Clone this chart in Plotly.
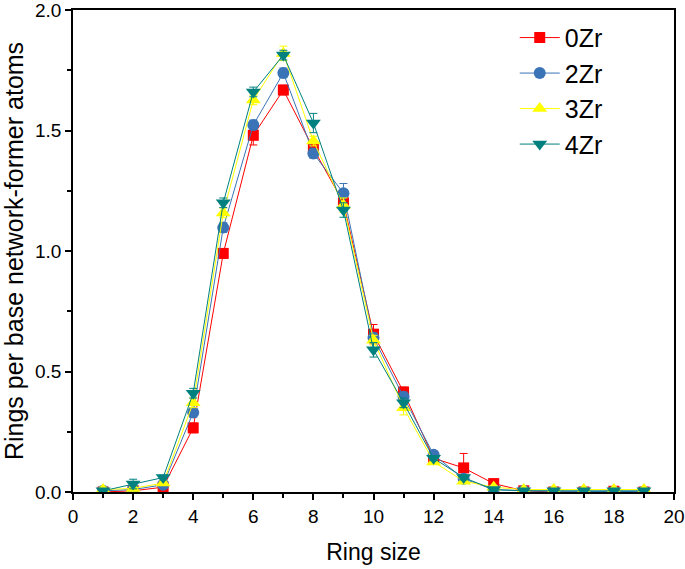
import plotly.graph_objects as go

ring_size = list(range(1, 20))
names = ["0Zr", "2Zr", "3Zr", "4Zr"]
y_0zr = [0.0, 0.005, 0.02, 0.266, 0.99, 1.48, 1.668, 1.425, 1.20, 0.655, 0.415, 0.14, 0.10, 0.035, 0.005, 0.0, 0.0, 0.003, 0.0]
y_2zr = [0.005, 0.01, 0.03, 0.33, 1.097, 1.523, 1.739, 1.405, 1.24, 0.64, 0.395, 0.155, 0.055, 0.01, 0.005, 0.002, 0.002, 0.002, 0.002]
y_3zr = [0.01, 0.015, 0.037, 0.37, 1.158, 1.627, 1.82, 1.456, 1.19, 0.63, 0.35, 0.125, 0.045, 0.02, 0.01, 0.01, 0.01, 0.01, 0.01]
y_4zr = [0.005, 0.033, 0.06, 0.41, 1.20, 1.66, 1.813, 1.531, 1.17, 0.59, 0.37, 0.14, 0.06, 0.01, 0.005, 0.005, 0.005, 0.005, 0.005]
err_0zr = [0.005, 0.005, 0.01, 0.02, 0.02, 0.04, 0.02, 0.03, 0.03, 0.04, 0.02, 0.01, 0.06, 0.01, 0.005, 0.0, 0.0, 0.005, 0.0]
err_2zr = [0.005, 0.01, 0.01, 0.02, 0.02, 0.02, 0.02, 0.02, 0.04, 0.02, 0.02, 0.01, 0.01, 0.005, 0.005, 0.0, 0.0, 0.0, 0.0]
err_3zr = [0.01, 0.01, 0.01, 0.02, 0.02, 0.02, 0.03, 0.02, 0.03, 0.02, 0.03, 0.01, 0.01, 0.005, 0.005, 0.005, 0.005, 0.005, 0.005]
err_4zr = [0.005, 0.02, 0.01, 0.02, 0.02, 0.02, 0.02, 0.04, 0.03, 0.03, 0.02, 0.01, 0.01, 0.005, 0.005, 0.0, 0.0, 0.0, 0.0]

series = [y_0zr, y_2zr, y_3zr, y_4zr]
errors = [err_0zr, err_2zr, err_3zr, err_4zr]
colors = ["#FF0000", "#3A74B6", "#FFFF00", "#00807F"]
symbols = ["square", "circle", "triangle-up", "triangle-down"]
sizes = [11, 12, 13, 13]

fig = go.Figure()
for n, y, e, c, s, sz in zip(names, series, errors, colors, symbols, sizes):
    fig.add_trace(go.Scatter(
        x=ring_size, y=y, name=n, mode="lines+markers",
        line=dict(color=c, width=1),
        marker=dict(color=c, symbol=s, size=sz),
        error_y=dict(type="data", array=e, visible=True, color=c, thickness=1, width=4),
    ))

font_family = "Liberation Sans, Arial, sans-serif"
fig.update_layout(
    width=685, height=569,
    margin=dict(l=73, r=11, t=10, b=77, autoexpand=False),
    paper_bgcolor="white", plot_bgcolor="white",
    font=dict(family=font_family, color="black"),
    showlegend=True,
    legend=dict(x=0.735, y=0.99, xanchor="left", yanchor="top",
                font=dict(size=25, family=font_family),
                bgcolor="rgba(0,0,0,0)", tracegroupgap=0, itemwidth=40),
    xaxis=dict(range=[0, 20], tickmode="linear", tick0=0, dtick=2, automargin=False,
               ticklabeloverflow="allow",
               showline=True, linecolor="black", linewidth=1.5, mirror=True,
               ticks="outside", ticklen=6, tickwidth=1.5, tickcolor="black",
               minor=dict(tickmode="linear", tick0=1, dtick=2, ticks="outside", ticklen=4, tickwidth=1.5, tickcolor="black"),
               showgrid=False, zeroline=False,
               tickfont=dict(size=19),
               title=dict(text="Ring size", font=dict(size=23), standoff=18)),
    yaxis=dict(range=[0, 2.0], tickmode="linear", tick0=0, dtick=0.5, tickformat=".1f", automargin=False,
               ticklabeloverflow="allow",
               showline=True, linecolor="black", linewidth=1.5, mirror=True,
               ticks="outside", ticklen=6, tickwidth=1.5, tickcolor="black",
               minor=dict(tickmode="linear", tick0=0.25, dtick=0.5, ticks="outside", ticklen=4, tickwidth=1.5, tickcolor="black"),
               showgrid=False, zeroline=False,
               tickfont=dict(size=19),
               title=dict(text="Rings per base network-former atoms", font=dict(size=25), standoff=6)),
)

fig.write_html("out.html", config={"displayModeBar": False},
               post_script="document.body.style.margin='0';")
